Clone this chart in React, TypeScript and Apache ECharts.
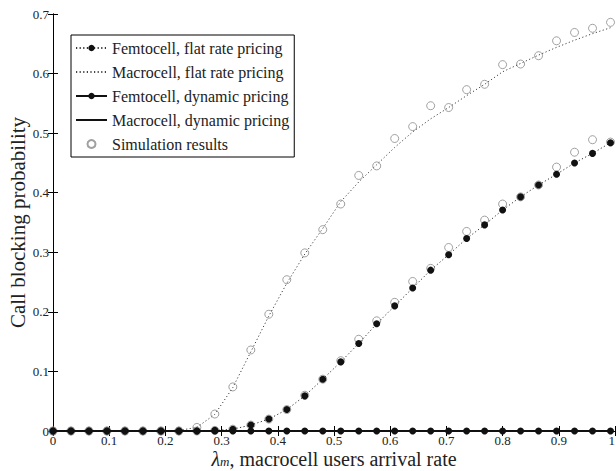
import React, { useEffect, useRef } from "react";
import * as echarts from "echarts";

const xValues = [0, 0.032, 0.064, 0.096, 0.128, 0.16, 0.192, 0.224, 0.256, 0.288, 0.32, 0.352, 0.384, 0.416, 0.448, 0.48, 0.512, 0.544, 0.576, 0.608, 0.64, 0.672, 0.704, 0.736, 0.768, 0.8, 0.832, 0.864, 0.896, 0.928, 0.96, 0.992];

const femtoFlat = [0, 0, 0, 0, 0, 0, 0, 0, 0, 0.001, 0.003, 0.01, 0.02, 0.036, 0.059, 0.087, 0.116, 0.147, 0.18, 0.21, 0.24, 0.27, 0.296, 0.323, 0.346, 0.371, 0.393, 0.413, 0.431, 0.45, 0.466, 0.484];

const macroFlat = [0, 0, 0, 0, 0, 0, 0, 0.001, 0.006, 0.028, 0.073, 0.133, 0.193, 0.248, 0.297, 0.34, 0.385, 0.418, 0.447, 0.476, 0.502, 0.524, 0.543, 0.563, 0.582, 0.603, 0.617, 0.631, 0.644, 0.656, 0.667, 0.677];

const femtoDynamic = [0, 0, 0, 0, 0, 0, 0, 0, 0, 0, 0, 0, 0, 0, 0, 0, 0, 0, 0, 0, 0, 0, 0, 0, 0, 0, 0, 0, 0, 0, 0, 0];
const macroDynamic = [0, 0, 0, 0, 0, 0, 0, 0, 0, 0, 0, 0, 0, 0, 0, 0, 0, 0, 0, 0, 0, 0, 0, 0, 0, 0, 0, 0, 0, 0, 0, 0];

const simMacro = [0, 0, 0, 0, 0, 0, 0, 0, 0.006, 0.0285, 0.074, 0.136, 0.196, 0.254, 0.299, 0.338, 0.381, 0.429, 0.445, 0.491, 0.511, 0.546, 0.543, 0.573, 0.582, 0.615, 0.616, 0.63, 0.655, 0.669, 0.676, 0.686];
const simFemto = [0, 0, 0, 0, 0, 0, 0, 0, 0, 0.001, 0.003, 0.01, 0.02, 0.036, 0.06, 0.087, 0.118, 0.154, 0.185, 0.216, 0.251, 0.273, 0.308, 0.335, 0.354, 0.381, 0.393, 0.413, 0.443, 0.468, 0.489, 0.485];

const seriesNames = [
  "Femtocell, flat rate pricing",
  "Macrocell, flat rate pricing",
  "Femtocell, dynamic pricing",
  "Macrocell, dynamic pricing",
  "Simulation results",
];

const pairs = (ys: number[]) => xValues.map((x, i) => [x, ys[i]]);

const FONT = "Liberation Serif";

export default function App() {
  const ref = useRef<HTMLDivElement>(null);
  useEffect(() => {
    if (!ref.current) return;
    const chart = echarts.init(ref.current, undefined, { renderer: "svg" });
    const axisCommon = {
      type: "value" as const,
      min: 0,
      axisLine: { show: true, lineStyle: { color: "#000", width: 1 } },
      axisTick: { show: true, inside: true, length: 5, lineStyle: { color: "#000" } },
      splitLine: { show: false },
    };
    const labelStyle = { color: "#222", fontFamily: FONT, fontSize: 13 };
    chart.setOption({
      animation: false,
      backgroundColor: "#fff",
      grid: { left: 53, right: 1, top: 14, bottom: 40, containLabel: false, outerBoundsMode: "none" },
      legend: {
        orient: "vertical",
        left: 71,
        top: 35,
        padding: [5, 5, 5, 4],
        itemGap: 8,
        itemWidth: 31,
        itemHeight: 8,
        borderColor: "#000",
        borderWidth: 1,
        borderRadius: 0,
        backgroundColor: "#fff",
        data: [
          { name: seriesNames[0] },
          { name: seriesNames[1], itemStyle: { opacity: 0 } },
          { name: seriesNames[2] },
          { name: seriesNames[3], itemStyle: { opacity: 0 } },
          { name: seriesNames[4] },
        ],
        textStyle: { color: "#222", fontFamily: FONT, fontSize: 16, lineHeight: 16 },
      },
      xAxis: [
        {
          ...axisCommon,
          max: 1,
          interval: 0.1,
          position: "bottom",
          axisLabel: { ...labelStyle, margin: 3, alignMaxLabel: "right" },
          name: "{l|λ}{s|m}{t|, macrocell users arrival rate}",
          nameLocation: "middle",
          nameGap: 19,
          nameMoveOverlap: false,
          nameTextStyle: {
            rich: {
              l: { fontFamily: FONT, fontSize: 20, lineHeight: 18, fontStyle: "italic", color: "#222" },
              s: { fontFamily: FONT, fontSize: 13, lineHeight: 9, fontStyle: "italic", color: "#222", verticalAlign: "bottom" },
              t: { fontFamily: FONT, fontSize: 20, lineHeight: 18, color: "#222" },
            },
          },
        },
        {
          ...axisCommon,
          max: 1,
          interval: 0.1,
          position: "top",
          axisLabel: { show: false },
        },
      ],
      yAxis: [
        {
          ...axisCommon,
          max: 0.7,
          interval: 0.1,
          position: "left",
          axisLabel: { ...labelStyle, margin: 4 },
          name: "Call blocking probability",
          nameLocation: "middle",
          nameGap: 25,
          nameMoveOverlap: false,
          nameTextStyle: { fontFamily: FONT, fontSize: 21, color: "#222" },
        },
        {
          ...axisCommon,
          max: 0.7,
          interval: 0.1,
          position: "right",
          axisLabel: { show: false },
        },
      ],
      series: [
        {
          name: seriesNames[0],
          type: "line",
          data: pairs(femtoFlat),
          symbol: "circle",
          symbolSize: 7,
          showAllSymbol: true,
          itemStyle: { color: "#111" },
          lineStyle: { color: "#333", width: 1, type: [1.2, 2.4] },
          z: 4,
        },
        {
          name: seriesNames[1],
          type: "line",
          data: pairs(macroFlat),
          symbol: "none",
          itemStyle: { color: "#444" },
          lineStyle: { color: "#444", width: 1, type: [1.2, 2.4] },
          z: 3,
        },
        {
          name: seriesNames[2],
          type: "line",
          data: pairs(femtoDynamic),
          symbol: "circle",
          symbolSize: 7,
          showAllSymbol: true,
          itemStyle: { color: "#111" },
          lineStyle: { color: "#111", width: 2 },
          z: 6,
        },
        {
          name: seriesNames[3],
          type: "line",
          data: pairs(macroDynamic),
          symbol: "none",
          itemStyle: { color: "#111" },
          lineStyle: { color: "#111", width: 2 },
          z: 5,
        },
        {
          name: seriesNames[4],
          type: "scatter",
          data: pairs(simMacro),
          symbol: "circle",
          symbolSize: 8,
          itemStyle: { color: "rgba(255,255,255,0)", borderColor: "#888", borderWidth: 1 },
          z: 2,
        },
        {
          name: seriesNames[4],
          type: "scatter",
          data: pairs(simFemto),
          symbol: "circle",
          symbolSize: 8,
          itemStyle: { color: "rgba(255,255,255,0)", borderColor: "#888", borderWidth: 1 },
          z: 2,
        },
      ],
    });
    return () => chart.dispose();
  }, []);
  return (
    <div
      ref={ref}
      style={{ position: "fixed", left: 0, top: 0, width: 616, height: 471 }}
    />
  );
}
